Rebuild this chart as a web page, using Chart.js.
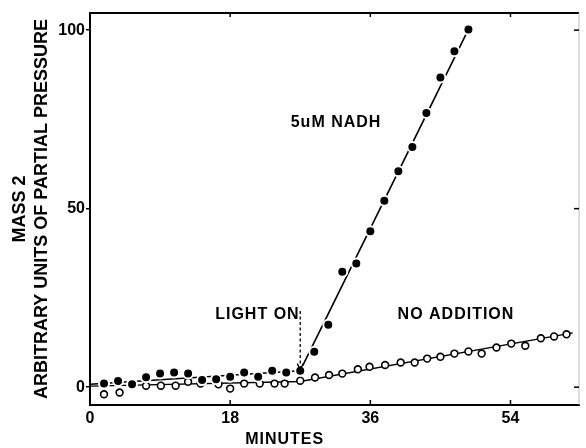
<!DOCTYPE html>
<html>
<head>
<meta charset="utf-8">
<script src="https://cdn.jsdelivr.net/npm/chart.js@4/dist/chart.umd.min.js"></script>
<style>
  html, body { margin: 0; padding: 0; background: #fff; }
</style>
</head>
<body>
<canvas id="chart" width="586" height="448"></canvas>
<script>
// filled circles, 5uM NADH
const nadhMinutes = [1.8, 3.6, 5.4, 7.2, 9.0, 10.8, 12.6, 14.4, 16.2, 18.0, 19.8, 21.6, 23.4, 25.2, 27.0,
  28.8, 30.6, 32.4, 34.2, 36.0, 37.8, 39.6, 41.4, 43.2, 45.0, 46.8, 48.6]
const nadhValues = [1.0, 1.7, 0.8, 2.8, 3.8, 4.1, 3.8, 2.0, 2.2, 2.9, 4.1, 2.9, 4.6, 4.1, 4.6,
  9.9, 17.5, 32.3, 34.6, 43.7, 52.2, 60.5, 67.3, 76.8, 86.7, 94.1, 100.2]

// open circles, no addition
const blankMinutes = [1.8, 3.8, 7.2, 9.1, 11.0, 12.6, 14.2, 16.5, 18.0, 19.8, 21.8, 23.7, 25.0, 27.0,
  28.9, 30.7, 32.4, 34.4, 35.9, 37.9, 39.9, 41.7, 43.3, 45.0, 46.8, 48.6, 50.3, 52.2, 54.1, 55.9,
  57.9, 59.6, 61.2]
const blankValues = [-2.0, -1.5, 0.4, 0.4, 0.4, 1.5, 1.0, 0.8, -0.4, 1.0, 1.0, 1.0, 1.0, 1.8,
  2.7, 3.4, 3.8, 5.0, 5.7, 6.2, 6.9, 6.9, 8.0, 8.5, 9.4, 10.0, 9.4, 11.1, 12.2, 11.6,
  13.7, 14.2, 14.8]

// hand drawn lines through the points
const nadhFitMinutes = [0, 27.0, 48.6]
const nadhFitValues = [0.8, 4.6, 100.2]
const blankFitMinutes = [0, 27.0, 62.0]
const blankFitValues = [0.3, 1.6, 15.2]

const xTicks = [0, 18, 36, 54]
const yTicks = [0, 50, 100]

const xTitle = 'MINUTES'
const yTitle = ['MASS 2', 'ARBITRARY UNITS OF PARTIAL PRESSURE']
const notes = [
  { text: '5uM NADH', x: 31.6, y: 74.2 },
  { text: 'LIGHT ON', x: 21.5, y: 20.2 },
  { text: 'NO ADDITION', x: 47.0, y: 20.2 }
]
const lightOn = { x: 27.0, from: 21.3, to: 4.9 }

const FONT = "'Liberation Sans', Arial, sans-serif"

function pts(xs, ys) {
  return xs.map((x, i) => ({ x: x, y: ys[i] }))
}

// frame, inward ticks and the written notes
const extras = {
  id: 'extras',
  afterDraw(chart) {
    const ctx = chart.ctx
    const a = chart.chartArea
    const xs = chart.scales.x
    const ys = chart.scales.y
    ctx.save()
    ctx.strokeStyle = '#000'
    ctx.lineWidth = 2
    ctx.beginPath()
    ctx.moveTo(a.left - 1, a.top)
    ctx.lineTo(a.right, a.top)
    ctx.stroke()
    ctx.strokeStyle = '#bbb'
    ctx.lineWidth = 1
    ctx.beginPath()
    ctx.moveTo(a.right, a.top)
    ctx.lineTo(a.right, a.bottom)
    ctx.stroke()

    ctx.strokeStyle = '#000'
    ctx.lineWidth = 1.5
    xTicks.slice(1).forEach(v => {
      const px = xs.getPixelForValue(v)
      ctx.beginPath()
      ctx.moveTo(px, a.bottom)
      ctx.lineTo(px, a.bottom - 5)
      ctx.moveTo(px, a.top)
      ctx.lineTo(px, a.top + 4)
      ctx.stroke()
    })
    yTicks.forEach(v => {
      const py = ys.getPixelForValue(v)
      ctx.beginPath()
      ctx.moveTo(a.right, py)
      ctx.lineTo(a.right - 5, py)
      ctx.stroke()
    })

    // light on arrow
    const ax = xs.getPixelForValue(lightOn.x)
    const y1 = ys.getPixelForValue(lightOn.from)
    const y2 = ys.getPixelForValue(lightOn.to)
    ctx.lineWidth = 1.3
    ctx.setLineDash([3, 2.5])
    ctx.beginPath()
    ctx.moveTo(ax, y1)
    ctx.lineTo(ax, y2)
    ctx.stroke()
    ctx.setLineDash([])
    ctx.beginPath()
    ctx.moveTo(ax - 3, y2 - 6)
    ctx.lineTo(ax, y2)
    ctx.lineTo(ax + 3, y2 - 6)
    ctx.stroke()

    ctx.fillStyle = '#000'
    ctx.font = 'bold 16px ' + FONT
    ctx.letterSpacing = '1px'
    ctx.textAlign = 'center'
    ctx.textBaseline = 'middle'
    notes.forEach(n => {
      ctx.fillText(n.text, xs.getPixelForValue(n.x), ys.getPixelForValue(n.y))
    })
    ctx.fillText(xTitle, xs.getPixelForValue(25.0), 440)
    ctx.restore()
  }
}

new Chart(document.getElementById('chart'), {
  type: 'scatter',
  data: {
    datasets: [
      {
        label: '5uM NADH',
        data: pts(nadhMinutes, nadhValues),
        showLine: false,
        pointRadius: 5,
        pointBackgroundColor: '#000',
        pointBorderColor: '#fff',
        pointBorderWidth: 2,
        order: 1
      },
      {
        label: 'No addition',
        data: pts(blankMinutes, blankValues),
        showLine: false,
        pointRadius: 3.4,
        pointBackgroundColor: '#fff',
        pointBorderColor: '#000',
        pointBorderWidth: 1.6,
        order: 1
      },
      {
        label: 'NADH line',
        data: pts(nadhFitMinutes, nadhFitValues),
        showLine: true,
        pointRadius: 0,
        borderColor: '#000',
        borderWidth: 1.6,
        order: 2
      },
      {
        label: 'No addition line',
        data: pts(blankFitMinutes, blankFitValues),
        showLine: true,
        pointRadius: 0,
        borderColor: '#000',
        borderWidth: 1.4,
        order: 2
      }
    ]
  },
  options: {
    responsive: false,
    devicePixelRatio: 1,
    animation: false,
    layout: { padding: { top: 13, right: 1, left: 0, bottom: 0 } },
    plugins: { legend: { display: false }, tooltip: { enabled: false } },
    scales: {
      x: {
        type: 'linear',
        min: 0,
        max: 62.8,
        afterBuildTicks: s => { s.ticks = xTicks.map(v => ({ value: v })) },
        afterFit: s => { s.height = 43 },
        grid: { display: true, drawOnChartArea: false, drawTicks: false },
        border: { color: '#000', width: 2 },
        ticks: { color: '#000', padding: 4, font: { family: FONT, size: 16, weight: 'bold' } }
      },
      y: {
        type: 'linear',
        min: -5,
        max: 104.8,
        afterBuildTicks: s => { s.ticks = yTicks.map(v => ({ value: v })) },
        afterFit: s => { s.width = 90 },
        grid: { drawOnChartArea: false, drawTicks: true, tickLength: 4, color: '#000', lineWidth: 1.5 },
        border: { color: '#000', width: 2 },
        ticks: { color: '#000', padding: 1, font: { family: FONT, size: 16, weight: 'bold' } },
        title: {
          display: true,
          text: yTitle,
          color: '#000',
          padding: { top: 9, bottom: 0 },
          font: { family: FONT, size: 18, weight: 'bold', lineHeight: 1.22 }
        }
      }
    }
  },
  plugins: [extras]
})
</script>
</body>
</html>
